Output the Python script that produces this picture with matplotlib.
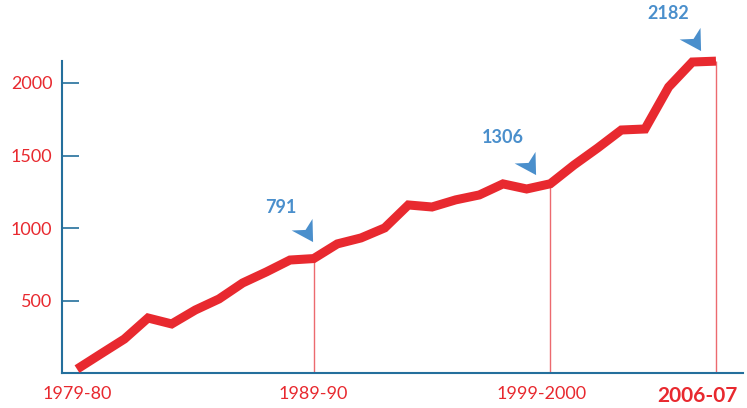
import numpy as np
import matplotlib
matplotlib.use("Agg")
import matplotlib.pyplot as plt
from matplotlib.path import Path
from matplotlib.transforms import ScaledTranslation

# data
seasons = [f"{y}-{str(y + 1)[2:]}" for y in range(1979, 2007)]
values = [30, 134, 237, 382, 341, 437, 513, 623, 699, 781,
          791, 892, 933, 1002, 1160, 1146, 1195, 1229, 1305, 1270,
          1306, 1435, 1552, 1676, 1683, 1972, 2144, 2150]
tick_idx = [0, 10, 20, 27]
tick_labels = ["1979-80", "1989-90", "1999-2000", "2006-07"]
marked_idx = [10, 20, 27]
marked_text = ["791", "1306", "2182"]

red = "#e8292f"
blue = "#4a8fcc"
axis_blue = "#246f9c"

plt.rcParams['font.family'] = ['Lato', 'DejaVu Sans']

fig = plt.figure(figsize=(7.47, 4.08), dpi=100)
ax = fig.add_axes([0.083, 0.0846, 0.9116, 0.7659])

x = np.arange(len(values))
ax.plot(x, values, color=red, lw=6.5, solid_joinstyle='miter',
        solid_capstyle='butt', clip_on=False, zorder=3)

# thin drop lines at the marked seasons
for i in marked_idx:
    ax.vlines(i, 0, values[i], color="#ec6a6f", lw=1, zorder=2)

# arrow markers (anchored at the middle of their right edge) and value labels
arrow = Path([(0.0, 1.0), (0.05, -1.0), (-1.8, 0.0), (-0.6, 0.05), (0.0, 1.0)],
             [Path.MOVETO, Path.LINETO, Path.LINETO, Path.LINETO, Path.CLOSEPOLY])
arrow_pos = [(9.93, 988), (19.37, 1448), (26.34, 2303)]
text_pos = [(8.6, 1145), (18.0, 1622), (25.0, 2475)]
for (ax_x, ax_y), (tx, ty), t in zip(arrow_pos, text_pos, marked_text):
    ax.plot(ax_x, ax_y, marker=arrow, ms=30, color=blue, mew=0, clip_on=False)
    ax.text(tx, ty, t, color=blue, fontsize=13, fontweight='bold',
            ha='center', va='center', clip_on=False)

ax.set_xlim(-0.634, 28.14)
ax.set_ylim(0, 2151)

for s in ['top', 'right']:
    ax.spines[s].set_visible(False)
for s in ['left', 'bottom']:
    ax.spines[s].set_color(axis_blue)
    ax.spines[s].set_linewidth(1.5)

ax.set_yticks([500, 1000, 1500, 2000])
ax.tick_params(axis='y', direction='in', length=12, width=1.2, color=axis_blue,
               labelcolor=red, labelsize=13, pad=7)
ax.set_xticks(tick_idx)
ax.set_xticklabels(tick_labels)
ax.tick_params(axis='x', length=0, labelcolor=red, labelsize=13, pad=9)
labels = ax.get_xticklabels()
labels[2].set_transform(labels[2].get_transform() + ScaledTranslation(-0.09, 0, fig.dpi_scale_trans))
last = labels[-1]
last.set_fontweight('bold')
last.set_fontsize(15)
last.set_transform(last.get_transform() + ScaledTranslation(-0.19, 0, fig.dpi_scale_trans))

fig.savefig("out.png", dpi=100)
